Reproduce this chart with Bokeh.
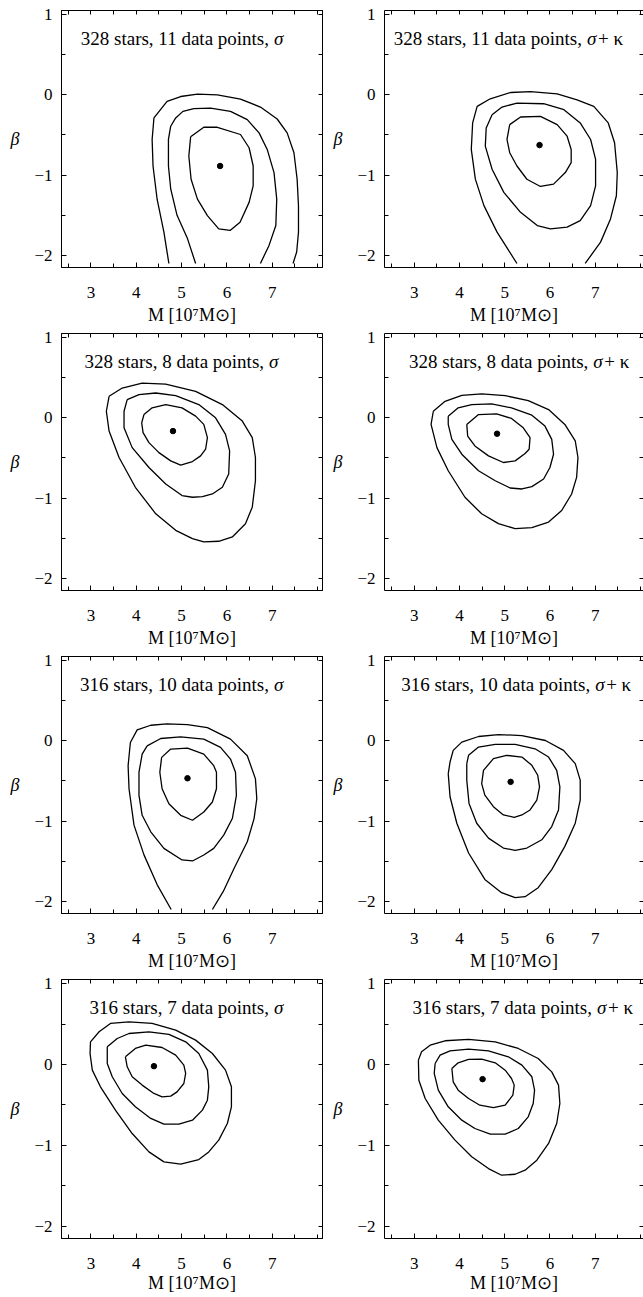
from bokeh.plotting import figure
from bokeh.models import LinearAxis, FixedTicker, CustomJSTickFormatter, Label, Range1d
from bokeh.layouts import column, row
from bokeh.embed import file_html
from bokeh.resources import INLINE

# ---------------- data (M in 1e7 Msun, beta) ----------------
title_main = ["328 stars, 11 data points,", "328 stars, 11 data points,",
              "328 stars, 8 data points,", "328 stars, 8 data points,",
              "316 stars, 10 data points,", "316 stars, 10 data points,",
              "316 stars, 7 data points,", "316 stars, 7 data points,"]
title_kind = ["σ", "σ+ κ", "σ", "σ+ κ", "σ", "σ+ κ", "σ", "σ+ κ"]

best_M = [5.85, 5.77, 4.81, 4.83, 5.13, 5.13, 4.39, 4.51]
best_beta = [-0.886, -0.626, -0.165, -0.198, -0.466, -0.511, -0.021, -0.181]

x_major = [3, 4, 5, 6, 7]
x_minor = [2.5, 3.5, 4.5, 5.5, 6.5, 7.5, 8]
y_major = [-2, -1, 0, 1]
y_minor = [-1.5, -0.5, 0.5]

# panel 1
p1_c1_M = [4.72,4.61,4.46,4.37,4.35,4.39,4.68,4.98,5.35,5.79,6.30,6.74,7.11,7.33,7.48,7.55,7.58,7.58,7.54,7.46]
p1_c1_B = [-2.10,-1.71,-1.30,-0.886,-0.556,-0.288,-0.082,-0.021,0.008,0.0,-0.054,-0.152,-0.301,-0.474,-0.721,-1.051,-1.380,-1.710,-1.957,-2.10]
p1_c2_M = [5.31,5.13,4.90,4.76,4.71,4.71,4.76,4.87,5.03,5.27,5.64,6.08,6.45,6.71,6.89,7.04,7.10,7.08,6.93,6.74]
p1_c2_B = [-2.10,-1.79,-1.50,-1.17,-0.886,-0.556,-0.391,-0.288,-0.206,-0.173,-0.165,-0.206,-0.309,-0.474,-0.680,-0.968,-1.298,-1.628,-1.875,-2.10]
p1_c3_M = [5.20,5.49,5.79,6.30,6.49,6.58,6.58,6.49,6.29,6.07,5.82,5.57,5.35,5.21,5.16]
p1_c3_B = [-0.523,-0.404,-0.404,-0.494,-0.659,-0.886,-1.133,-1.339,-1.586,-1.689,-1.669,-1.504,-1.298,-1.051,-0.762]
# panel 2
p2_c1_M = [5.27,4.83,4.54,4.35,4.26,4.29,4.39,4.68,5.13,5.57,6.16,6.60,6.97,7.29,7.43,7.49,7.47,7.34,7.12,6.78]
p2_c1_B = [-2.10,-1.71,-1.38,-1.05,-0.68,-0.35,-0.144,-0.049,0.029,0.041,0.012,-0.062,-0.144,-0.350,-0.597,-0.968,-1.257,-1.545,-1.834,-2.10]
p2_c2_M = [4.72,4.94,5.27,5.86,6.31,6.67,6.90,7.01,7.01,6.90,6.67,6.38,6.01,5.72,5.35,4.98,4.72,4.57,4.59]
p2_c2_B = [-0.247,-0.152,-0.103,-0.111,-0.185,-0.350,-0.556,-0.803,-1.133,-1.380,-1.566,-1.648,-1.669,-1.628,-1.463,-1.215,-0.927,-0.639,-0.412]
p2_c3_M = [5.11,5.35,5.79,6.16,6.38,6.47,6.47,6.34,6.08,5.79,5.49,5.27,5.11,5.05]
p2_c3_B = [-0.371,-0.276,-0.268,-0.371,-0.515,-0.680,-0.845,-0.968,-1.112,-1.141,-1.051,-0.886,-0.721,-0.556]
# panel 3
p3_c1_M = [3.40,3.69,4.13,4.65,5.31,5.90,6.34,6.56,6.63,6.63,6.56,6.41,6.12,5.82,5.49,5.24,4.87,4.43,3.98,3.62,3.40,3.34]
p3_c1_B = [0.268,0.371,0.433,0.420,0.330,0.165,-0.041,-0.247,-0.494,-0.783,-1.112,-1.318,-1.483,-1.537,-1.545,-1.504,-1.401,-1.195,-0.865,-0.494,-0.165,0.082]
p3_c2_M = [3.80,4.06,4.43,4.87,5.38,5.75,5.97,6.06,6.04,5.90,5.68,5.46,5.24,5.01,4.65,4.28,3.91,3.73,3.73]
p3_c2_B = [0.227,0.288,0.309,0.276,0.165,0.0,-0.206,-0.412,-0.700,-0.865,-0.948,-0.981,-0.989,-0.968,-0.824,-0.618,-0.371,-0.124,0.082]
p3_c3_M = [4.17,4.35,4.65,5.01,5.31,5.49,5.57,5.53,5.42,5.24,4.98,4.76,4.50,4.28,4.15,4.12]
p3_c3_B = [0.041,0.124,0.165,0.124,0.021,-0.082,-0.247,-0.391,-0.474,-0.544,-0.589,-0.536,-0.433,-0.309,-0.185,-0.062]
# panel 4
p4_c1_M = [3.42,3.68,4.05,4.49,5.01,5.52,5.97,6.33,6.56,6.62,6.59,6.48,6.26,5.97,5.60,5.23,4.86,4.49,4.12,3.75,3.50,3.37]
p4_c1_B = [0.082,0.206,0.280,0.297,0.276,0.214,0.103,-0.082,-0.288,-0.494,-0.742,-0.948,-1.154,-1.298,-1.368,-1.380,-1.318,-1.195,-0.989,-0.659,-0.371,-0.082]
p4_c2_M = [3.75,3.97,4.27,4.71,5.15,5.60,5.89,6.04,6.08,6.00,5.86,5.60,5.38,5.12,4.79,4.42,4.05,3.83,3.75]
p4_c2_B = [0.021,0.124,0.165,0.173,0.124,0.033,-0.103,-0.268,-0.453,-0.618,-0.762,-0.857,-0.886,-0.874,-0.783,-0.659,-0.453,-0.268,-0.082]
p4_c3_M = [4.16,4.42,4.82,5.15,5.41,5.56,5.54,5.45,5.23,4.97,4.64,4.34,4.18]
p4_c3_B = [-0.082,0.041,0.049,-0.008,-0.124,-0.247,-0.391,-0.445,-0.536,-0.556,-0.474,-0.350,-0.227]
# panel 5
p5_c1_M = [4.77,4.46,4.17,3.95,3.84,3.82,3.87,4.02,4.32,4.68,5.13,5.57,6.08,6.45,6.63,6.66,6.60,6.45,6.16,5.92,5.68]
p5_c1_B = [-2.10,-1.79,-1.42,-1.05,-0.597,-0.309,-0.021,0.136,0.194,0.210,0.202,0.165,0.021,-0.185,-0.474,-0.721,-0.968,-1.257,-1.586,-1.875,-2.10]
p5_c2_M = [4.24,4.54,4.98,5.49,5.86,6.08,6.19,6.21,6.12,5.93,5.71,5.49,5.24,5.01,4.61,4.32,4.13,4.06,4.06,4.13]
p5_c2_B = [-0.062,0.029,0.049,0.021,-0.082,-0.227,-0.391,-0.680,-0.968,-1.174,-1.339,-1.421,-1.496,-1.483,-1.339,-1.133,-0.927,-0.680,-0.391,-0.165]
p5_c3_M = [4.56,4.76,5.13,5.49,5.71,5.77,5.77,5.68,5.49,5.24,4.98,4.72,4.57,4.52]
p5_c3_B = [-0.206,-0.103,-0.091,-0.165,-0.309,-0.391,-0.597,-0.762,-0.886,-0.989,-0.927,-0.783,-0.597,-0.391]
# panel 6
p6_c1_M = [3.75,3.79,3.86,4.05,4.42,4.86,5.38,5.90,6.30,6.56,6.67,6.67,6.56,6.33,6.04,5.74,5.45,5.23,4.93,4.56,4.20,3.94,3.79]
p6_c1_B = [-0.408,-0.264,-0.119,-0.016,0.054,0.078,0.066,0.004,-0.119,-0.284,-0.490,-0.738,-1.026,-1.314,-1.603,-1.829,-1.941,-1.953,-1.891,-1.726,-1.397,-1.026,-0.696]
p6_c2_M = [4.16,4.20,4.42,4.79,5.23,5.67,5.97,6.15,6.22,6.19,6.04,5.82,5.49,5.23,4.97,4.64,4.38,4.21,4.16]
p6_c2_B = [-0.284,-0.181,-0.078,-0.045,-0.045,-0.099,-0.202,-0.367,-0.573,-0.861,-1.067,-1.232,-1.335,-1.364,-1.335,-1.211,-1.026,-0.779,-0.490]
p6_c3_M = [4.53,4.75,5.04,5.38,5.60,5.73,5.77,5.71,5.56,5.38,5.21,4.97,4.75,4.56,4.49]
p6_c3_B = [-0.367,-0.222,-0.181,-0.202,-0.305,-0.429,-0.573,-0.738,-0.861,-0.923,-0.952,-0.923,-0.820,-0.676,-0.532]
# panel 7
p7_c1_M = [2.98,2.99,3.18,3.43,3.84,4.35,4.87,5.31,5.68,5.97,6.10,6.10,6.01,5.82,5.60,5.38,4.98,4.61,4.28,3.91,3.54,3.21,3.03]
p7_c1_B = [0.136,0.280,0.404,0.507,0.527,0.507,0.424,0.301,0.136,-0.070,-0.276,-0.523,-0.729,-0.935,-1.080,-1.174,-1.232,-1.203,-1.080,-0.853,-0.564,-0.276,-0.070]
p7_c2_M = [3.36,3.58,3.84,4.28,4.72,5.09,5.38,5.57,5.60,5.57,5.46,5.24,4.94,4.61,4.32,3.98,3.69,3.47,3.36]
p7_c2_B = [0.218,0.321,0.383,0.404,0.371,0.280,0.136,-0.070,-0.276,-0.441,-0.564,-0.688,-0.738,-0.738,-0.667,-0.523,-0.358,-0.152,0.012]
p7_c3_M = [3.76,3.98,4.21,4.57,4.87,5.05,5.09,5.05,4.90,4.76,4.57,4.39,4.13,3.91,3.80]
p7_c3_B = [0.095,0.198,0.239,0.210,0.115,-0.008,-0.111,-0.235,-0.338,-0.391,-0.400,-0.358,-0.255,-0.152,-0.029]
# panel 8
p8_c1_M = [3.09,3.16,3.35,3.68,4.20,4.79,5.30,5.74,6.04,6.19,6.22,6.15,5.97,5.71,5.45,5.23,4.93,4.64,4.27,3.90,3.53,3.24,3.10]
p8_c1_B = [0.054,0.157,0.239,0.293,0.309,0.280,0.198,0.074,-0.091,-0.255,-0.482,-0.729,-0.976,-1.183,-1.306,-1.356,-1.368,-1.286,-1.141,-0.935,-0.688,-0.420,-0.194]
p8_c2_M = [3.46,3.57,3.79,4.20,4.64,5.08,5.38,5.60,5.66,5.63,5.52,5.30,5.01,4.68,4.34,4.05,3.75,3.53,3.44]
p8_c2_B = [0.012,0.115,0.169,0.190,0.169,0.095,-0.008,-0.152,-0.317,-0.482,-0.647,-0.791,-0.861,-0.861,-0.791,-0.688,-0.523,-0.317,-0.111]
p8_c3_M = [3.83,3.97,4.20,4.49,4.79,5.01,5.15,5.21,5.18,5.01,4.75,4.45,4.20,3.97,3.86]
p8_c3_B = [-0.049,0.021,0.062,0.066,0.021,-0.070,-0.173,-0.255,-0.379,-0.503,-0.532,-0.503,-0.420,-0.317,-0.214]

contours = [
    [(p1_c1_M, p1_c1_B), (p1_c2_M, p1_c2_B), (p1_c3_M, p1_c3_B)],
    [(p2_c1_M, p2_c1_B), (p2_c2_M, p2_c2_B), (p2_c3_M, p2_c3_B)],
    [(p3_c1_M, p3_c1_B), (p3_c2_M, p3_c2_B), (p3_c3_M, p3_c3_B)],
    [(p4_c1_M, p4_c1_B), (p4_c2_M, p4_c2_B), (p4_c3_M, p4_c3_B)],
    [(p5_c1_M, p5_c1_B), (p5_c2_M, p5_c2_B), (p5_c3_M, p5_c3_B)],
    [(p6_c1_M, p6_c1_B), (p6_c2_M, p6_c2_B), (p6_c3_M, p6_c3_B)],
    [(p7_c1_M, p7_c1_B), (p7_c2_M, p7_c2_B), (p7_c3_M, p7_c3_B)],
    [(p8_c1_M, p8_c1_B), (p8_c2_M, p8_c2_B), (p8_c3_M, p8_c3_B)],
]

# layout (screen) settings
FONT = "Liberation Serif"
YR = (-2.15, 1.05)
split_x = [7.04, 6.82, 6.93, 6.96, 7.04, 7.00, 7.04, 7.04]   # where the italic part starts


def ticks_style(ax, major_len=5, minor_len=4):
    ax.major_tick_in = major_len
    ax.major_tick_out = 0
    ax.minor_tick_in = minor_len
    ax.minor_tick_out = 0
    ax.axis_line_color = "black"
    ax.major_tick_line_color = "black"
    ax.minor_tick_line_color = "black"


def panel(i):
    r, c = divmod(i, 2)
    left = c == 0
    bl, br = (61, 8) if left else (54, 0)
    fw = 261 if left else 259
    bt = 10 if r == 0 else 6
    bb = 58
    xr = (2.35, 8.11) if left else (2.34, 8.07)
    p = figure(width=bl + fw + br, height=bt + 259 + bb,
               x_range=Range1d(*xr), y_range=Range1d(*YR),
               x_axis_type=None, y_axis_type=None,
               output_backend="svg", toolbar_location=None,
               min_border_left=bl, min_border_right=br,
               min_border_top=bt, min_border_bottom=bb)
    p.background_fill_color = "white"
    p.border_fill_color = "white"
    p.outline_line_color = "black" if left else None

    # bottom axis with labels
    bx = LinearAxis(ticker=FixedTicker(ticks=x_major, minor_ticks=x_minor),
                    axis_label="M [10⁷M⊙]")
    ticks_style(bx)
    bx.major_label_text_font = FONT
    bx.major_label_text_font_size = "17px"
    bx.major_label_text_color = "black"
    bx.major_label_standoff = 19
    bx.axis_label_standoff = 1 if r == 3 else 4
    bx.axis_label_text_font = FONT
    bx.axis_label_text_font_size = "18px"
    bx.axis_label_text_font_style = "normal"
    bx.axis_label_text_color = "black"
    p.add_layout(bx, "below")

    # left axis with labels
    ly = LinearAxis(ticker=FixedTicker(ticks=y_major, minor_ticks=y_minor), axis_label="β",
                    formatter=CustomJSTickFormatter(code="return tick < 0 ? '\u2212' + Math.abs(tick) : String(tick);"))
    ticks_style(ly)
    ly.major_label_text_font = FONT
    ly.major_label_text_font_size = "17px"
    ly.major_label_text_color = "black"
    ly.major_label_standoff = 9
    ly.axis_label_standoff = 12
    ly.axis_label_orientation = "horizontal"
    ly.axis_label_text_font = FONT
    ly.axis_label_text_font_size = "18px"
    ly.axis_label_text_font_style = "italic"
    ly.axis_label_text_color = "black"
    p.add_layout(ly, "left")

    # top and right: tick marks only (no labels)
    tx = LinearAxis(ticker=FixedTicker(ticks=[], minor_ticks=x_major + x_minor))
    ticks_style(tx, 4, 4)
    p.add_layout(tx, "above")

    ry = LinearAxis(ticker=FixedTicker(ticks=[], minor_ticks=y_major + y_minor))
    ticks_style(ry, 4, 4)
    if not left:
        ry.axis_line_color = None
    p.add_layout(ry, "right")

    for xs, ys in contours[i]:
        xs = list(xs)
        ys = list(ys)
        if not (ys[0] <= -2.09 and ys[-1] <= -2.09):
            xs = xs + [xs[0]]
            ys = ys + [ys[0]]
        p.line(xs, ys, line_color="black", line_width=1.3)

    p.scatter([best_M[i]], [best_beta[i]], size=5.5, color="black")

    sx = split_x[i]
    p.add_layout(Label(x=sx, y=0.70, x_offset=-5, text=title_main[i],
                       text_align="right", text_baseline="alphabetic",
                       text_font=FONT, text_font_size="19px", text_color="black"))
    kind = title_kind[i]
    p.add_layout(Label(x=sx, y=0.70, text=kind[0],
                       text_align="left", text_baseline="alphabetic",
                       text_font=FONT, text_font_size="19px", text_font_style="italic",
                       text_color="black"))
    if len(kind) > 1:
        p.add_layout(Label(x=sx, y=0.70, x_offset=11, text=kind[1:],
                           text_align="left", text_baseline="alphabetic",
                           text_font=FONT, text_font_size="19px", text_color="black"))
    return p


plots = [panel(i) for i in range(8)]
layout = column([row(plots[2 * r], plots[2 * r + 1]) for r in range(4)])

open("out.html", "w").write(file_html(layout, INLINE))
